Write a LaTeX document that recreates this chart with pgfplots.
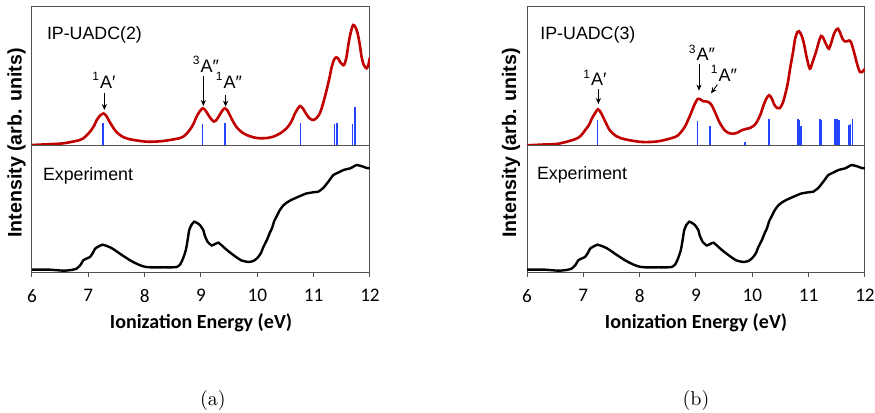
\documentclass[border=0pt]{standalone}
\usepackage{fontspec}
\newfontfamily\arial{Liberation Sans}
\newfontfamily\carlito{Carlito}
\usepackage{pgfplots}
\usepackage{pgfplotstable}
\pgfplotsset{compat=1.18}
\usetikzlibrary{arrows.meta}

\definecolor{dred}{HTML}{C00000}
\definecolor{sblue}{HTML}{2244FF}
\definecolor{navy}{HTML}{1F3A93}
\definecolor{boxg}{HTML}{505050}

\pgfplotstableread{
x y
6.00 1
6.30 1.8
6.56 2.7
6.85 6
6.95 9.5
7.03 14.3
7.10 20
7.15 26
7.21 30.5
7.27 32.5
7.32 30
7.38 24
7.44 18.5
7.50 14
7.60 9.5
7.74 6.7
8.04 4.3
8.33 5
8.63 8
8.72 11
8.80 16
8.86 21.5
8.92 29
8.97 34
9.03 37.7
9.08 35.5
9.13 31
9.18 27
9.23 24.5
9.28 26.5
9.33 31
9.38 35.5
9.42 37.7
9.47 35.5
9.51 31
9.57 24.5
9.63 19
9.72 14
9.81 11
9.93 8.7
10.05 7.7
10.17 8
10.28 9.3
10.40 12.5
10.52 17.7
10.60 24
10.67 32.7
10.72 37.5
10.76 40
10.81 37.5
10.86 32.7
10.92 28
10.99 26
11.05 28
11.11 32.7
11.17 43
11.23 56
11.28 68
11.32 79
11.36 86
11.40 88.7
11.44 87
11.47 84
11.51 81.5
11.54 81
11.58 88
11.62 102.7
11.66 114
11.70 121
11.74 119
11.78 112.7
11.82 101
11.85 89.3
11.89 81
11.94 77.7
11.97 81
12.00 88.7
}\simA

\pgfplotstableread{
x y
7.26 22.7
9.03 22
9.43 22.7
10.77 22.7
11.37 22
11.41 23.3
11.69 22
11.73 38.7
}\stickA

\pgfplotstableread{
x y
6.00 0.7
6.30 1.5
6.56 2.3
6.85 6.7
6.95 10
7.03 15.7
7.10 21
7.15 27.3
7.21 33
7.26 36.7
7.31 33.5
7.35 29
7.41 22
7.47 15.7
7.58 10
7.74 6.7
8.04 4
8.33 4.7
8.63 9
8.72 13
8.80 19
8.86 26
8.92 34
8.97 41
9.03 47
9.08 46.5
9.13 44.7
9.18 44.5
9.22 44
9.27 41.5
9.31 37.3
9.36 31
9.40 25.7
9.45 20.5
9.51 15.7
9.58 13
9.66 12.3
9.74 13.5
9.81 15.7
9.88 17
9.96 18
10.02 20
10.08 24
10.14 31
10.20 40.7
10.25 47.5
10.30 50.7
10.35 47
10.39 41.3
10.44 38
10.49 38
10.54 43
10.58 50.7
10.63 63
10.67 77.3
10.72 93
10.76 107.3
10.80 114
10.83 114.7
10.87 111
10.91 104
10.96 90
11.02 77.3
11.07 84
11.13 94
11.18 104
11.22 110
11.26 108
11.29 104
11.33 99.5
11.36 97.3
11.40 103
11.44 110.7
11.48 115.5
11.52 117.3
11.56 113
11.60 107.3
11.64 104.7
11.68 104.7
11.72 105.5
11.75 104
11.79 97
11.82 90.7
11.87 80
11.91 74
11.95 74
12.00 77.3
}\simB

\pgfplotstableread{
x y
7.255 25.7
9.03 24.7
9.25 19.7
9.87 4
10.30 26.7
10.81 27.3
10.83 25.7
10.86 19.7
11.20 26.7
11.22 25.7
11.47 27.3
11.50 26.7
11.54 25.7
11.72 20.7
11.74 21.5
11.78 26.7
}\stickB

\pgfplotstableread{
x y
6.00 3.3
6.32 3.3
6.56 2.3
6.70 3
6.79 4.3
6.86 8
6.91 12.7
6.97 14.5
7.03 16
7.08 20
7.12 24.3
7.18 26.5
7.25 28.3
7.33 27
7.41 25
7.48 22.5
7.56 19.3
7.65 16
7.74 12.7
7.83 10
7.92 7.7
8.00 6.3
8.09 5.7
8.33 5.7
8.50 5.7
8.57 6
8.63 8.5
8.68 14.3
8.73 22.7
8.76 32
8.79 42.7
8.83 48
8.88 51.3
8.93 50
8.98 48
9.04 43
9.07 37
9.12 31
9.19 27.5
9.25 29
9.31 30.3
9.38 27
9.46 23
9.55 19
9.63 15.7
9.72 12.5
9.84 11
9.93 12
10.00 15
10.06 19.5
10.11 26.3
10.17 33
10.22 40
10.26 44.7
10.30 52
10.34 56.3
10.40 63
10.46 67.5
10.52 70.3
10.60 73
10.68 75
10.76 77
10.87 79.5
10.99 80.7
11.08 81.3
11.17 85
11.26 91.3
11.35 98
11.44 100.5
11.53 103
11.65 104.7
11.71 106.5
11.76 108
11.82 107.3
11.88 106.3
11.94 105
12.00 104.7
}\expt

\pgfplotsset{
  base/.style={scale only axis, width=169pt, xmin=6, xmax=12,
    axis line style={boxg, line width=0.5pt}, ytick=\empty},
  topax/.style={base, height=69.5pt, ymin=0, ymax=139, xtick=\empty},
  botax/.style={base, height=63.5pt, ymin=0, ymax=127,
    xtick={6,7,8,9,10,11,12}, xticklabels={6,7,8,9,10,11,12},
    xtick pos=bottom, tick align=outside,
    major tick length=2pt, tick style={boxg, line width=0.5pt},
    xticklabel style={font=\carlito\fontsize{9.6}{10}\selectfont, yshift=-2.5pt}},
  redline/.style={dred, line width=1.3pt, smooth, tension=0.5, no marks},
  sticks/.style={sblue, line width=0.75pt, ycomb, no marks},
  expline/.style={black, line width=1.2pt, smooth, tension=0.3, no marks},
}

\begin{document}
\begin{tikzpicture}
\path[use as bounding box] (0,0) rectangle (437.5pt,206.5pt);

% ---------- panel (a) ----------
\begin{axis}[topax, at={(16pt,133.5pt)}, anchor=south west]
  \addplot[sticks] table {\stickA};
  \addplot[navy, line width=1pt, no marks] coordinates {(6,0) (12,0)};
  \addplot[redline] table {\simA};
\end{axis}
\begin{axis}[botax, at={(16pt,70pt)}, anchor=south west]
  \addplot[expline] table {\expt};
\end{axis}

% ---------- panel (b) ----------
\begin{axis}[topax, at={(263.5pt,133.5pt)}, anchor=south west]
  \addplot[sticks] table {\stickB};
  \addplot[sblue, line width=1pt, no marks] coordinates {(6,0) (12,0)};
  \addplot[redline] table {\simB};
\end{axis}
\begin{axis}[botax, at={(263.5pt,70pt)}, anchor=south west]
  \addplot[expline] table {\expt};
\end{axis}

% ---------- texts ----------
\tikzset{lab/.style={inner sep=0pt, font=\arial\fontsize{8.9}{10}\selectfont},
         ann/.style={inner sep=0pt, anchor=base, font=\arial\fontsize{9}{10}\selectfont},
         arr/.style={-{Stealth[length=3pt,width=2.6pt]}, line width=0.45pt, black}}

\node[lab, anchor=base west] at (23.3pt,186.8pt) {IP-UADC(2)};
\node[lab, anchor=base west] at (270pt,186.5pt) {IP-UADC(3)};
\node[lab, anchor=base west] at (21.3pt,116.2pt) {Experiment};
\node[lab, anchor=base west] at (268.3pt,116.8pt) {Experiment};

% annotations (a)
\node[ann] at (52pt,162.4pt) {\textsuperscript{1}A′};
\draw[arr] (52.2pt,159.8pt) -- (52.2pt,151.5pt);
\node[ann] at (103pt,170.2pt) {\textsuperscript{3}A″};
\draw[arr] (101.7pt,168.5pt) -- (101.7pt,153.5pt);
\node[ann] at (114.5pt,162.4pt) {\textsuperscript{1}A″};
\draw[arr] (112.8pt,159pt) -- (112.8pt,153.2pt);

% annotations (b)
\node[ann] at (297.5pt,163.5pt) {\textsuperscript{1}A′};
\draw[arr] (299.2pt,161.8pt) -- (299.2pt,154.5pt);
\node[ann] at (351pt,176pt) {\textsuperscript{3}A″};
\draw[arr] (349.5pt,174.6pt) -- (349.5pt,161.2pt);
\node[ann] at (362pt,165.7pt) {\textsuperscript{1}A″};
\draw[arr] (358.7pt,164.2pt) -- (355.5pt,159.8pt);

% axis titles
\node[inner sep=0pt, rotate=90, font=\arial\bfseries\fontsize{9.8}{11}\selectfont] at (8.3pt,135pt) {Intensity (arb. units)};
\node[inner sep=0pt, rotate=90, font=\arial\bfseries\fontsize{9.8}{11}\selectfont] at (255.5pt,135pt) {Intensity (arb. units)};
\node[inner sep=0pt, anchor=base, font=\carlito\bfseries\fontsize{10}{11}\selectfont] at (100.5pt,42.3pt) {Ionization Energy (eV)};
\node[inner sep=0pt, anchor=base, font=\carlito\bfseries\fontsize{10}{11}\selectfont] at (348pt,42.3pt) {Ionization Energy (eV)};

% captions
\node[inner sep=0pt, font=\fontsize{10}{12}\selectfont] at (106.5pt,6pt) {(a)};
\node[inner sep=0pt, font=\fontsize{10}{12}\selectfont] at (348pt,6pt) {(b)};
\end{tikzpicture}
\end{document}
